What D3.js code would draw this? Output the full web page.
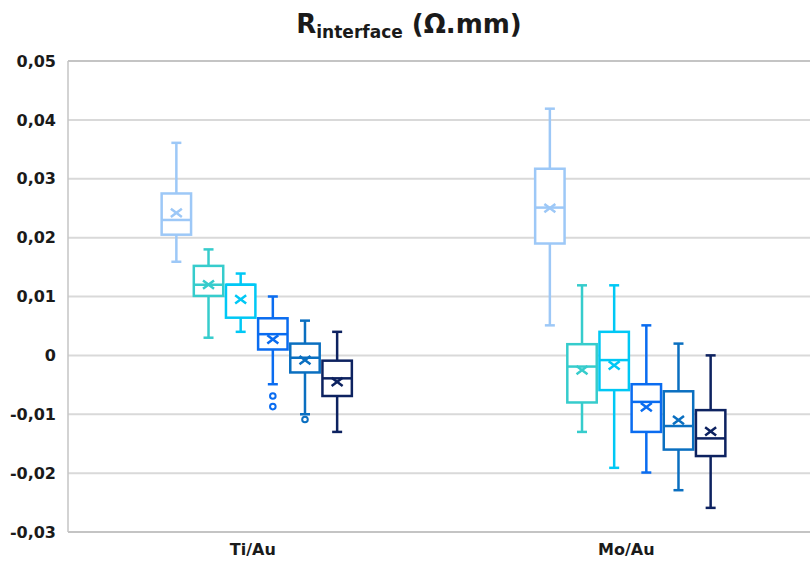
<!DOCTYPE html>
<html>
<head>
<meta charset="utf-8">
<script src="https://cdn.jsdelivr.net/npm/d3@7"></script>
<style>
html,body{margin:0;padding:0;background:#fff;}
text{font-family:"DejaVu Sans",sans-serif;font-weight:bold;fill:#1a1a1a;}
</style>
</head>
<body>
<svg id="chart" width="810" height="574"></svg>
<script>
// ---- data ----
const categories = ["Ti/Au", "Mo/Au"];
const seriesNames = ["S1", "S2", "S3", "S4", "S5", "S6"];
const yTicks = [0.05, 0.04, 0.03, 0.02, 0.01, 0, -0.01, -0.02, -0.03];
// each array: [series][category]
const whiskerHigh = [[0.0361, 0.0419], [0.018, 0.0119], [0.0139, 0.0119], [0.0100, 0.0051], [0.0059, 0.0020], [0.0040, 0.0000]];
const q3 =          [[0.0275, 0.0317], [0.0152, 0.0019], [0.0120, 0.0040], [0.0063, -0.0049], [0.0020, -0.0061], [-0.0009, -0.0093]];
const median =      [[0.0230, 0.0251], [0.0120, -0.0019], [0.0120, -0.0008], [0.0036, -0.0079], [-0.0004, -0.0120], [-0.0039, -0.0141]];
const q1 =          [[0.0205, 0.0190], [0.0101, -0.0080], [0.0064, -0.0059], [0.0010, -0.0130], [-0.0029, -0.0160], [-0.0069, -0.0171]];
const whiskerLow =  [[0.0159, 0.0051], [0.0030, -0.0130], [0.0040, -0.0191], [-0.0049, -0.0199], [-0.0100, -0.0229], [-0.0130, -0.0259]];
const mean =        [[0.0242, 0.0250], [0.0120, -0.0025], [0.0095, -0.0017], [0.0027, -0.0088], [-0.0008, -0.0110], [-0.0045, -0.0129]];
const outliers =    [[[], []], [[], []], [[], []], [[-0.0069, -0.0087], []], [[-0.0109], []], [[], []]];

const colors = ["#9DC8F7", "#36CCCC", "#00C8F5", "#0A6CF0", "#0A6FC0", "#0D2260"];

// ---- layout ----
const svg = d3.select("#chart");
const mLeft = 68, mRight = 810, mTop = 61, mBottom = 532;

const y = d3.scaleLinear().domain([-0.03, 0.05]).range([mBottom, mTop]);
const x0 = d3.scaleBand().domain(categories).range([66, 813]).padding(0);
const x1 = d3.scaleBand().domain(seriesNames).range([4, x0.bandwidth() + 4]).paddingInner(0.085).paddingOuter(2.85);

const locale = d3.formatLocale({decimal: ",", thousands: " ", grouping: [3], currency: ["", ""], minus: "-"});
const fmt = d => d === 0 ? "0" : locale.format(".2f")(d);

// gridlines
svg.append("g").selectAll("line").data(yTicks).join("line")
  .attr("x1", mLeft).attr("x2", mRight)
  .attr("y1", d => y(d)).attr("y2", d => y(d))
  .attr("stroke", d => (d === 0.05 || d === -0.03) ? "#C4C4C4" : "#D9D9D9")
  .attr("stroke-width", 2);

// y axis line
svg.append("line").attr("x1", mLeft).attr("x2", mLeft).attr("y1", mTop).attr("y2", mBottom)
  .attr("stroke", "#C4C4C4").attr("stroke-width", 1.5);

// y axis labels via d3 axis
const yAxis = d3.axisLeft(y).tickValues(yTicks).tickFormat(fmt).tickSize(0).tickPadding(12);
const ya = svg.append("g").attr("transform", `translate(${mLeft},0)`).call(yAxis);
ya.select(".domain").remove();
ya.selectAll("text").style("font-size", "16px").style("font-family", "'DejaVu Sans',sans-serif").style("font-weight", "bold").attr("fill", "#1a1a1a");

// x axis labels
const xAxis = d3.axisBottom(x0).tickSize(0).tickPadding(12);
const xa = svg.append("g").attr("transform", `translate(0,${mBottom})`).call(xAxis);
xa.select(".domain").remove();
xa.selectAll("text").style("font-size", "16px").style("font-family", "'DejaVu Sans',sans-serif").style("font-weight", "bold").attr("fill", "#1a1a1a");

// title
const title = svg.append("text").attr("x", 409).attr("y", 33).attr("text-anchor", "middle");
title.append("tspan").text("R").style("font-size", "26px");
title.append("tspan").text("interface").style("font-size", "17px").attr("dy", 5);
title.append("tspan").text(" (Ω.mm)").style("font-size", "26px").attr("dy", -5);

// boxes
const bw = x1.bandwidth();
const cap = 10;
const sw = 2.5;
seriesNames.forEach((s, si) => {
  const g = svg.append("g").attr("stroke", colors[si]).attr("fill", "none").attr("stroke-width", sw);
  categories.forEach((c, ci) => {
    const cx = x0(c) + x1(s) + bw / 2;
    const xl = x0(c) + x1(s);
    g.append("line").attr("x1", cx).attr("x2", cx).attr("y1", y(whiskerHigh[si][ci])).attr("y2", y(q3[si][ci]));
    g.append("line").attr("x1", cx).attr("x2", cx).attr("y1", y(q1[si][ci])).attr("y2", y(whiskerLow[si][ci]));
    g.append("line").attr("x1", cx - cap / 2).attr("x2", cx + cap / 2).attr("y1", y(whiskerHigh[si][ci])).attr("y2", y(whiskerHigh[si][ci]));
    g.append("line").attr("x1", cx - cap / 2).attr("x2", cx + cap / 2).attr("y1", y(whiskerLow[si][ci])).attr("y2", y(whiskerLow[si][ci]));
    g.append("rect").attr("x", xl).attr("width", bw)
      .attr("y", y(q3[si][ci])).attr("height", y(q1[si][ci]) - y(q3[si][ci]))
      .attr("fill", "#fff");
    g.append("line").attr("x1", xl).attr("x2", xl + bw).attr("y1", y(median[si][ci])).attr("y2", y(median[si][ci]));
    const my = y(mean[si][ci]), m = 5.5;
    g.append("path").attr("d", `M${cx - m},${my - m * 0.75}L${cx + m},${my + m * 0.75}M${cx - m},${my + m * 0.75}L${cx + m},${my - m * 0.75}`)
      .attr("stroke-width", 2.5);
    outliers[si][ci].forEach(v => {
      g.append("circle").attr("cx", cx).attr("cy", y(v)).attr("r", 2.8).attr("fill", "#fff").attr("stroke-width", 2);
    });
  });
});
</script>
</body>
</html>
